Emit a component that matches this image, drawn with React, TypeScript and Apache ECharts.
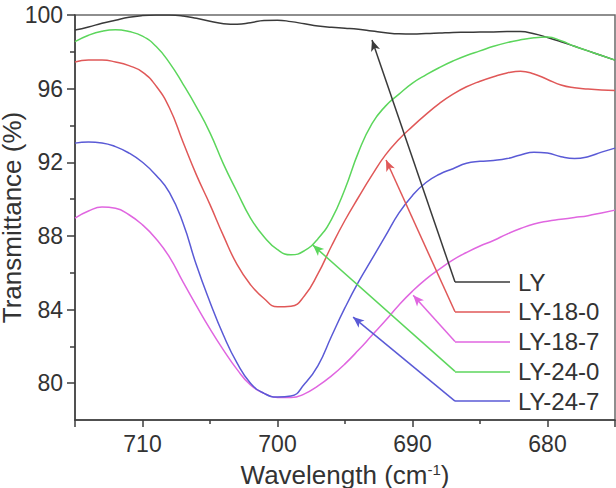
import { useEffect, useRef } from "react";
import * as echarts from "echarts";

// Wavenumber grid (cm^-1), high to low as plotted
const wavelengths = [
  715, 714, 713, 712, 711, 710, 709, 708, 707, 706, 705, 704, 703, 702, 701, 700,
  699, 698, 697, 696, 695, 694, 693, 692, 691, 690, 689, 688, 687, 686, 685, 684,
  683, 682, 681, 680, 679, 678, 677, 676, 675,
];

const seriesNames = ["LY", "LY-18-0", "LY-18-7", "LY-24-0", "LY-24-7"];

// Transmittance (%) for each sample
const ly = [
  99.18, 99.35, 99.55, 99.72, 99.88, 99.97, 100.0, 100.0, 99.95, 99.82, 99.66, 99.53, 99.5, 99.58, 99.7, 99.72,
  99.64, 99.52, 99.4, 99.33, 99.28, 99.22, 99.13, 99.04, 98.98, 98.97, 98.99, 99.02, 99.05, 99.06, 99.07, 99.08,
  99.1, 99.1, 98.98, 98.78, 98.55, 98.3, 98.05, 97.8, 97.55,
];
const ly180 = [
  97.45, 97.55, 97.55, 97.45, 97.25, 96.9, 96.15, 94.95, 93.1, 91.3, 89.7, 88.0, 86.45, 85.35, 84.6, 84.15,
  84.18, 84.75, 85.95, 87.45, 88.85, 90.1, 91.3, 92.4, 93.25, 93.95, 94.6, 95.2, 95.7, 96.1, 96.4, 96.65,
  96.85, 96.95, 96.8, 96.5, 96.2, 96.05, 95.98, 95.93, 95.9,
];
const ly187 = [
  88.97, 89.35, 89.57, 89.5, 89.15, 88.6, 87.85, 86.85, 85.5, 84.2, 82.95, 81.8, 80.75, 79.9, 79.45, 79.22,
  79.22, 79.42, 79.85, 80.4, 81.05, 81.8, 82.6, 83.4, 84.25, 85.0, 85.65, 86.2, 86.7, 87.1, 87.45, 87.75,
  88.1, 88.4, 88.65, 88.8, 88.9, 89.0, 89.1, 89.25, 89.4,
];
const ly240 = [
  98.55, 98.9, 99.12, 99.2, 99.1, 98.85, 98.3, 97.4, 96.25, 95.0, 93.6, 91.9, 90.4, 88.97, 87.95, 87.25,
  86.97, 87.2, 87.85, 88.9, 90.55, 92.55, 94.1, 95.05, 95.7, 96.3, 96.75, 97.15, 97.5, 97.8, 98.05, 98.3,
  98.5, 98.65, 98.76, 98.8, 98.6, 98.3, 98.05, 97.8, 97.55,
];
const ly247 = [
  93.04, 93.1, 93.05, 92.85, 92.5, 92.0, 91.3, 90.35, 88.7, 86.4, 84.4, 82.6, 81.1, 80.0, 79.45, 79.25,
  79.3, 79.95, 80.95, 82.55, 84.1, 85.5, 86.75, 88.0, 89.25, 90.2, 90.9, 91.35, 91.65, 91.95, 92.05, 92.1,
  92.2, 92.4, 92.55, 92.5, 92.3, 92.2, 92.3, 92.55, 92.77,
];

// Points on each curve that the legend arrows point at: [wavenumber, transmittance]
const arrowTargets = [
  [693.0, 98.64],
  [691.96, 92.12],
  [689.95, 84.78],
  [697.38, 87.5],
  [694.4, 83.59],
];

const xLabelTicks = [680, 690, 700, 710];
const xMajorTicks = [675, 680, 690, 700, 710, 715];
const xMinorTicks = [685, 695, 705];
const yMajorTicks = [80, 84, 88, 92, 96, 100];
const yMinorTicks = [82, 86, 90, 94, 98];

const colors = ["#3a3a3a", "#e05858", "#e066e0", "#5cd65c", "#5a5ad6"];
const FONT = "'Liberation Sans', Arial, Helvetica, sans-serif";
const AXIS_COLOR = "#3c3c3c";

export default function App() {
  const ref = useRef<HTMLDivElement>(null);

  useEffect(() => {
    const chart = echarts.init(ref.current!, null, { renderer: "svg" });
    const values = [ly, ly180, ly187, ly240, ly247];

    const legendX0 = 455;
    const legendX1 = 510;
    const legendY0 = 282;
    const legendStep = 29.8;

    const series = seriesNames.map((name, i) => {
      const y = legendY0 + i * legendStep;
      return {
        name,
        type: "line",
        smooth: 0.5,
        symbol: "none",
        data: wavelengths.map((w, j) => [w, values[i][j]]),
        lineStyle: { color: colors[i], width: 1.5 },
        z: 3,
        markLine: {
          silent: true,
          animation: false,
          symbol: ["none", "none"],
          label: { show: false },
          lineStyle: { color: colors[i], width: 1.5, type: "solid" },
          emphasis: { disabled: true },
          data: [
            [{ x: legendX0, y }, { x: legendX1, y }],
            [
              { x: legendX0, y },
              { coord: arrowTargets[i], symbol: "arrow", symbolSize: [7, 11] },
            ],
          ],
        },
      };
    });

    const tickStyle = { color: AXIS_COLOR, width: 1.5 };

    chart.setOption({
      animation: false,
      backgroundColor: "#ffffff",
      grid: {
        left: 75,
        right: 1,
        top: 15,
        bottom: 68,
        containLabel: false,
        outerBoundsMode: "none",
        show: true,
        borderColor: "#6a6a6a",
        borderWidth: 1.5,
        backgroundColor: "transparent",
      },
      xAxis: [
        {
          type: "value",
          min: 675,
          max: 715,
          inverse: true,
          position: "bottom",
          axisLine: { show: true, onZero: false, lineStyle: { color: AXIS_COLOR, width: 1.5 } },
          axisTick: { show: true, length: 7, customValues: xMajorTicks, lineStyle: tickStyle },
          axisLabel: {
            customValues: xLabelTicks,
            fontSize: 23,
            color: "#333",
            margin: 12,
            fontFamily: FONT,
          },
          splitLine: { show: false },
          name: "{a|Wavelength (cm}{s|-1}{a|)}",
          nameLocation: "middle",
          nameGap: 42,
          nameTextStyle: {
            rich: {
              a: { fontSize: 26, color: "#333", fontFamily: FONT },
              s: { fontSize: 15, color: "#333", fontFamily: FONT, verticalAlign: "top" },
            },
          },
        },
        {
          type: "value",
          min: 675,
          max: 715,
          inverse: true,
          position: "bottom",
          axisLine: { show: false, onZero: false },
          axisTick: { show: true, length: 4, customValues: xMinorTicks, lineStyle: tickStyle },
          axisLabel: { show: false },
          splitLine: { show: false },
        },
      ],
      yAxis: [
        {
          type: "value",
          min: 78,
          max: 100,
          position: "left",
          axisLine: { show: true, onZero: false, lineStyle: { color: AXIS_COLOR, width: 1.5 } },
          axisTick: { show: true, length: 8, customValues: yMajorTicks, lineStyle: tickStyle },
          axisLabel: {
            customValues: yMajorTicks,
            fontSize: 23,
            color: "#333",
            margin: 12,
            fontFamily: FONT,
          },
          splitLine: { show: false },
          name: "Transmittance (%)",
          nameLocation: "middle",
          nameGap: 50,
          nameMoveOverlap: false,
          nameTextStyle: { fontSize: 26, color: "#333", fontFamily: FONT },
        },
        {
          type: "value",
          min: 78,
          max: 100,
          position: "left",
          axisLine: { show: false, onZero: false },
          axisTick: { show: true, length: 5, customValues: yMinorTicks, lineStyle: tickStyle },
          axisLabel: { show: false },
          splitLine: { show: false },
        },
      ],
      graphic: seriesNames.map((name, i) => ({
        type: "text",
        x: 518,
        y: legendY0 + i * legendStep,
        z: 10,
        style: {
          text: name,
          fontSize: 24,
          fontFamily: FONT,
          fill: "#333",
          align: "left",
          verticalAlign: "middle",
        },
      })),
      series,
    });

    return () => chart.dispose();
  }, []);

  return (
    <div
      ref={ref}
      style={{ position: "fixed", left: 0, top: 0, width: 616, height: 488, background: "#fff" }}
    />
  );
}
